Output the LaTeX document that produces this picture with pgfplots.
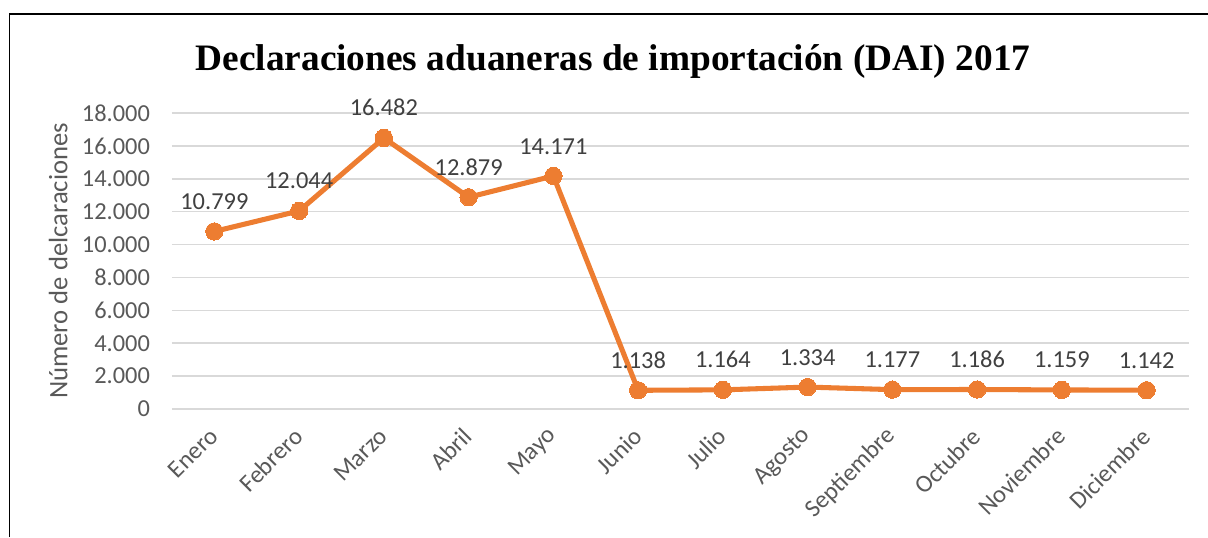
\documentclass[border=0pt]{standalone}
\usepackage{pgfplots}
\pgfplotsset{compat=1.18}
\usepackage{fontspec}
\setmainfont{Carlito}
\newfontfamily\titlefont{Liberation Serif}
\definecolor{lineor}{HTML}{ED7D31}
\definecolor{gridc}{HTML}{D9D9D9}
\definecolor{tickc}{HTML}{595959}
\definecolor{labc}{HTML}{404040}
\begin{document}
\begin{tikzpicture}[x=0.75pt,y=0.75pt]
\path[use as bounding box] (0,0) rectangle (1208,537);
\draw[black,line width=1.2pt] (9.5,0) -- (9.5,523) -- (1208,523);
\node[font=\titlefont\bfseries\fontsize{28}{32}\selectfont, anchor=base] at (613,466) {Declaraciones aduaneras de importación (DAI) 2017};
\begin{axis}[
  at={(129pt,96pt)}, anchor=south west,
  scale only axis, width=762.75pt, height=222pt,
  xmin=-0.5, xmax=11.5, ymin=0, ymax=18000,
  axis line style={draw=none},
  ytick={0,2000,...,18000},
  xtick={0,...,11},
  xticklabels={Enero,Febrero,Marzo,Abril,Mayo,Junio,Julio,Agosto,Septiembre,Octubre,Noviembre,Diciembre},
  tick style={draw=none},
  ymajorgrids, grid style={gridc, line width=1.2pt},
  /pgf/number format/.cd, 1000 sep={.}, assume math mode=true, /pgfplots/.cd,
  scaled y ticks=false,
  yticklabel style={font=\fontsize{18.3}{20}\selectfont, color=tickc, anchor=east, xshift=-13pt},
  xticklabel style={font=\fontsize{18.5}{20}\selectfont, color=tickc, yshift=-15pt, xshift=2pt, rotate=45, anchor=east},
  ylabel={Número de delcaraciones},
  ylabel style={font=\fontsize{20}{22}\selectfont, color=tickc, yshift=4pt},
  clip=false,
  nodes near coords={\pgfmathprintnumber[1000 sep={.},assume math mode=true]{\pgfplotspointmeta}},
  every node near coord/.append style={font=\fontsize{18.3}{20}\selectfont, color=labc, yshift=13pt},
]
\addplot[lineor, line width=3.8pt, mark=*, mark size=6.5pt, mark options={fill=lineor, draw=lineor, line width=0pt}] coordinates {
 (0,10799) (1,12044) (2,16482) (3,12879) (4,14171) (5,1138)
 (6,1164) (7,1334) (8,1177) (9,1186) (10,1159) (11,1142)
};
\end{axis}
\end{tikzpicture}
\end{document}
